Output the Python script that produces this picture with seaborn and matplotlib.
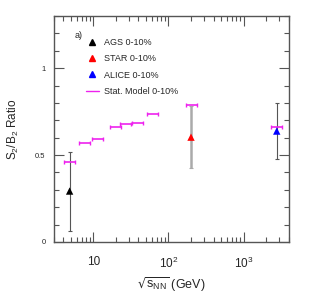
import numpy as np
import pandas as pd
import matplotlib
matplotlib.use("Agg")
import matplotlib.pyplot as plt
import seaborn as sns
from matplotlib.lines import Line2D
from matplotlib.ticker import LogLocator, MultipleLocator, FixedLocator, NullFormatter

# data
exp_names = ["AGS 0-10%", "STAR 0-10%", "ALICE 0-10%"]
exp_energy = [4.86, 200.0, 2760.0]
exp_ratio = [0.293, 0.603, 0.638]
exp_err = [0.227, 0.18, 0.163]
exp_colors = ["black", "red", "blue"]
exp_err_colors = ["#555555", "#aaaaaa", "#555555"]
exp_err_lw = [0.8, 1.8, 0.8]

model_energy = [4.86, 7.7, 11.5, 19.6, 27.0, 39.0, 62.4, 200.0, 2760.0]
model_ratio = [0.461, 0.569, 0.594, 0.659, 0.678, 0.682, 0.734, 0.786, 0.663]
model_label = "Stat. Model 0-10%"
model_color = "#ee22ee"

sns.set_theme(style="ticks")
plt.rcParams["font.family"] = ["Liberation Sans", "DejaVu Sans"]

fig = plt.figure(figsize=(3.15, 3.05), dpi=100)
ax = fig.add_axes([0.171, 0.2066, 0.746, 0.741])

# model horizontal segments
me = np.array(model_energy)
half = 0.073
xlo = me - me * 10 ** (-half)
xhi = me * 10 ** half - me
ax.errorbar(me, model_ratio, xerr=[xlo, xhi], fmt="none", ecolor=model_color,
            elinewidth=1.2, capsize=1.5, capthick=1.0, zorder=3)

# experimental error bars
for e, r, er, c, lw in zip(exp_energy, exp_ratio, exp_err, exp_err_colors, exp_err_lw):
    ax.errorbar([e], [r], yerr=[er], fmt="none", ecolor=c, elinewidth=lw,
                capsize=1.5, capthick=0.8, zorder=2)

df = pd.DataFrame({"energy": exp_energy, "ratio": exp_ratio, "exp": exp_names})
sns.scatterplot(data=df, x="energy", y="ratio", hue="exp", palette=exp_colors,
                marker="^", s=28, edgecolor="none", legend=False, ax=ax, zorder=4)

ax.set_xscale("log")
ax.set_xlim(3, 4000)
ax.set_ylim(0, 1.3)

ax.xaxis.set_major_locator(FixedLocator([10, 100, 1000]))
ax.xaxis.set_minor_locator(LogLocator(base=10, subs=np.arange(2, 10)))
ax.xaxis.set_minor_formatter(NullFormatter())
ax.set_xticklabels(["10", r"$\mathregular{10^2}$", r"$\mathregular{10^3}$"], fontsize=8.5)
ax.yaxis.set_major_locator(FixedLocator([0, 0.5, 1.0]))
ax.yaxis.set_minor_locator(MultipleLocator(0.1))
ax.set_yticklabels(["0", "0.5", "1"], fontsize=5.5)

ax.tick_params(which="both", direction="in", top=True, right=True, color="#555555")
ax.tick_params(which="major", length=7, width=0.8)
ax.tick_params(which="minor", length=3.5, width=0.8)
ax.tick_params(axis="x", which="major", pad=10)
ax.tick_params(axis="y", which="major", pad=6)
for s in ax.spines.values():
    s.set_color("#555555")
    s.set_linewidth(1.0)

ax.set_xlabel(r"$\sqrt{\mathregular{s_{NN}}}$ (GeV)", fontsize=9, labelpad=3)
ax.set_ylabel(r"S$_\mathregular{2}$/B$_\mathregular{2}$ Ratio", fontsize=8.5, labelpad=10)

ax.text(0.09, 0.915, "a)", transform=ax.transAxes, fontsize=6.5, va="center")

handles = [Line2D([], [], marker="^", color=c, linestyle="none", markersize=5)
           for c in exp_colors]
handles.append(Line2D([], [], color=model_color, lw=1.0))
labels = exp_names + [model_label]
leg = ax.legend(handles, labels, loc="upper left", bbox_to_anchor=(0.12, 0.918),
                frameon=False, fontsize=6.5, handlelength=1.5, handletextpad=0.5,
                labelspacing=0.8, borderaxespad=0)

fig.savefig("out.png", dpi=100)
